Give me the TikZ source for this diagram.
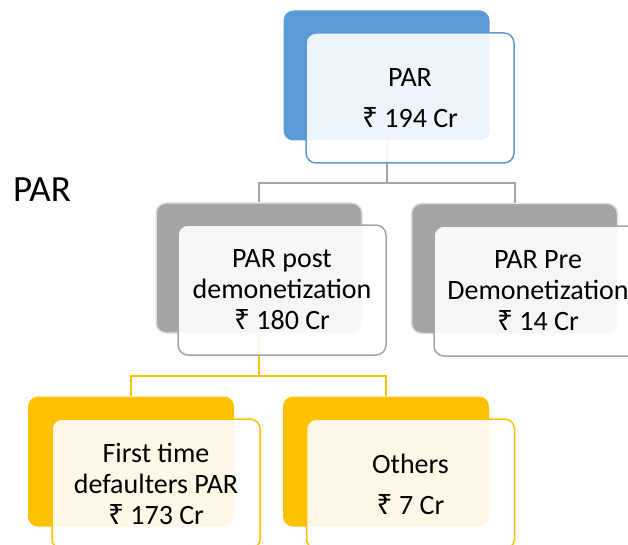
\documentclass[tikz,border=0pt]{standalone}
\usepackage{fontspec}
\setmainfont{Carlito}
\newfontfamily\rupeefont{Noto Sans}
\newcommand{\rupee}{{\rupeefont ₹}}
\definecolor{cblue}{HTML}{5B9BD5}
\definecolor{cgray}{HTML}{A5A5A5}
\definecolor{cyellow}{HTML}{FFC000}
\definecolor{cedge}{HTML}{E2E2E2}
\tikzset{
  backbox/.style={rounded corners=10pt, fill=#1, draw=none, minimum width=206pt, minimum height=130pt, inner sep=0pt},
  frontbox/.style={rounded corners=10pt, draw=#1, line width=1.5pt, fill=white, fill opacity=0.9, text opacity=1, minimum width=208pt, minimum height=130pt, inner sep=0pt, align=center},
  conn/.style={draw=#1, line width=2pt},
  big/.style={font=\fontsize{28}{41}\selectfont},
  tight/.style={font=\fontsize{28}{31}\selectfont},
}
\begin{document}
\begin{tikzpicture}[x=1pt,y=-1pt]
\useasboundingbox (0,0) rectangle (628,545);
\clip (0,0) rectangle (628,545);
% back boxes
\node[backbox=cblue] (b0) at (386.5,75.5) {};
\node[backbox=cgray, draw=cedge, line width=1.5pt] (b1) at (259,268) {};
\node[backbox=cgray, draw=cedge, line width=1.5pt] (b2) at (514.5,268.5) {};
\node[backbox=cyellow] (b3) at (131,461.5) {};
\node[backbox=cyellow] (b4) at (386,461.5) {};
% connectors
\coordinate (j0) at (386.5,183);
\coordinate (j1) at (259,376);
\draw[conn=cgray] (b0.south) -- (j0) -| (b1.north);
\draw[conn=cgray] (j0) -| (b2.north);
\draw[conn=cyellow] (b1.south) -- (j1) -| (b3.north);
\draw[conn=cyellow] (j1) -| (b4.north);
% front boxes
\node[frontbox=cblue, big] (f0) at (410,98) {PAR\\\rupee{} 194 Cr};
\node[frontbox=cgray, tight] (f1) at (282,290) {PAR post\\demonetization\\\rupee{} 180 Cr};
\node[frontbox=cgray, tight] (f2) at (538,291) {PAR Pre\\Demonetization\\\rupee{} 14 Cr};
\node[frontbox=cyellow, tight] (f3) at (156,484) {First time\\defaulters PAR\\\rupee{} 173 Cr};
\node[frontbox=cyellow, big] (f4) at (410.5,484) {Others\\\rupee{} 7 Cr};
% title
\node[font=\fontsize{37}{40}\selectfont, inner sep=0pt] (title) at (42,189.5) {PAR};
\end{tikzpicture}
\end{document}
